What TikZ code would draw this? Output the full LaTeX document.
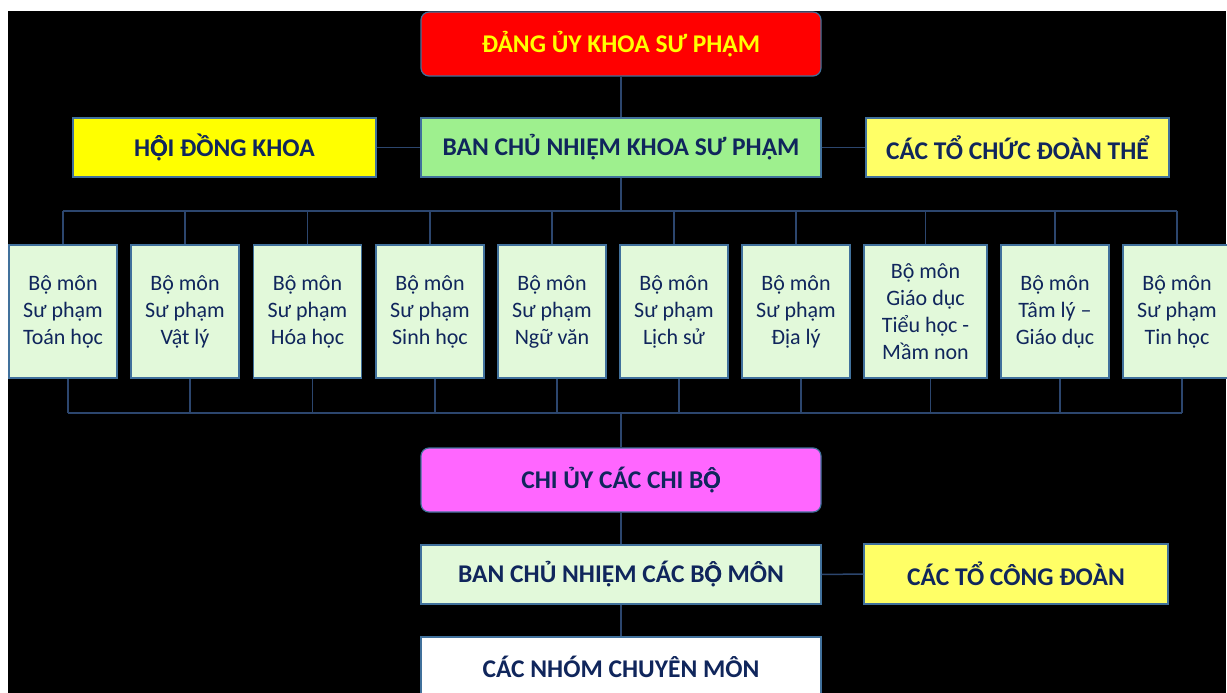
\documentclass[tikz,border=0pt]{standalone}
\usepackage{fontspec}
\setmainfont{Carlito}
\definecolor{navy}{RGB}{16,38,92}
\definecolor{bordc}{RGB}{65,113,156}
\definecolor{linec}{RGB}{44,70,110}
\definecolor{redbox}{RGB}{255,0,0}
\definecolor{yel}{RGB}{255,255,0}
\definecolor{ltyel}{RGB}{255,255,102}
\definecolor{grn}{RGB}{158,240,142}
\definecolor{ltgrn}{RGB}{226,249,218}
\definecolor{mag}{RGB}{255,102,255}
\newcommand{\Ocd}{\rlap{Ô}Ọ}
\begin{document}
\begin{tikzpicture}[x=1pt,y=-1pt,
  box/.style={draw=bordc, line width=1.2pt, inner sep=0pt, align=center, text=navy},
  hdr/.style={box, font=\fontsize{25.5}{30}\selectfont\bfseries},
  bmbox/.style={box, fill=ltgrn, font=\fontsize{22}{27}\selectfont, minimum width=108pt, minimum height=133pt},
  link/.style={draw=linec, line width=1.5pt}]
\useasboundingbox (0,0) rectangle (1227,693);
\clip (0,0) rectangle (1227,693);
\fill[white] (0,0) rectangle (1227,693);
\fill[black] (8,11) rectangle (1226,693);

% top level
\node[hdr, fill=redbox, text=yel, rounded corners=8pt, minimum width=400pt, minimum height=64pt] (dang) at (621,44) {ĐẢNG ỦY KHOA SƯ PHẠM};
\node[hdr, fill=yel, minimum width=303pt, minimum height=59pt] (hdk) at (224.5,147.5) {H\Ocd I ĐỒNG KHOA};
\node[hdr, fill=grn, minimum width=400pt, minimum height=59pt] (bcnk) at (621,147.5) {BAN CHỦ NHIỆM KHOA SƯ PHẠM};
\node[hdr, fill=ltyel, minimum width=303pt, minimum height=59pt] (ctcdt) at (1017.5,147.5) {CÁC TỔ CHỨC ĐOÀN THỂ};

% departments
\node[bmbox] (bm1) at (63,311.5) {Bộ môn\\Sư phạm\\Toán học};
\node[bmbox] (bm2) at (185,311.5) {Bộ môn\\Sư phạm\\Vật lý};
\node[bmbox] (bm3) at (307.5,311.5) {Bộ môn\\Sư phạm\\Hóa học};
\node[bmbox] (bm4) at (430,311.5) {Bộ môn\\Sư phạm\\Sinh học};
\node[bmbox] (bm5) at (552,311.5) {Bộ môn\\Sư phạm\\Ngữ văn};
\node[bmbox] (bm6) at (674,311.5) {Bộ môn\\Sư phạm\\Lịch sử};
\node[bmbox] (bm7) at (796,311.5) {Bộ môn\\Sư phạm\\Địa lý};
\node[bmbox, minimum width=123pt] (bm8) at (925.5,311.5) {Bộ môn\\Giáo dục\\Tiểu học -\\Mầm non};
\node[bmbox] (bm9) at (1055,311.5) {Bộ môn\\Tâm lý –\\Giáo dục};
\node[bmbox] (bm10) at (1177,311.5) {Bộ môn\\Sư phạm\\Tin học};

% lower levels
\node[hdr, fill=mag, rounded corners=8pt, minimum width=400pt, minimum height=64pt] (chiuy) at (621,480) {CHI ỦY CÁC CHI B\Ocd};
\node[hdr, fill=ltgrn, minimum width=400pt, minimum height=59pt] (bcnbm) at (621,574.5) {BAN CHỦ NHIỆM CÁC B\Ocd{} MÔN};
\node[hdr, fill=ltyel, minimum width=304pt, minimum height=60pt] (ctcd) at (1016,574) {CÁC TỔ CÔNG ĐOÀN};
\node[hdr, fill=white, minimum width=400pt, minimum height=60pt] (nhom) at (621,667) {CÁC NHÓM CHUYÊN MÔN};

% connectors
\coordinate (top) at (621,211);
\coordinate (bot) at (621,413);
\draw[link] (dang.south) -- (bcnk.north);
\draw[link] (hdk.east) -- (bcnk.west);
\draw[link] (bcnk.east) -- (ctcdt.west);
\draw[link] (bcnk.south) -- (top);
\draw[link] (bm1.north |- top) -- (bm10.north |- top);
\foreach \i in {1,...,10}{
  \draw[link] (bm\i.north) -- (bm\i.north |- top);
  \draw[link] ([xshift=5pt]bm\i.south) -- ([xshift=5pt]bm\i.south |- bot);
}
\draw[link] ([xshift=5pt]bm1.south |- bot) -- ([xshift=5pt]bm10.south |- bot);
\draw[link] (bot) -- (chiuy.north);
\draw[link] (chiuy.south) -- (bcnbm.north);
\draw[link] (bcnbm.south) -- (nhom.north);
\draw[link] (bcnbm.east) -- (ctcd.west);
\end{tikzpicture}
\end{document}
